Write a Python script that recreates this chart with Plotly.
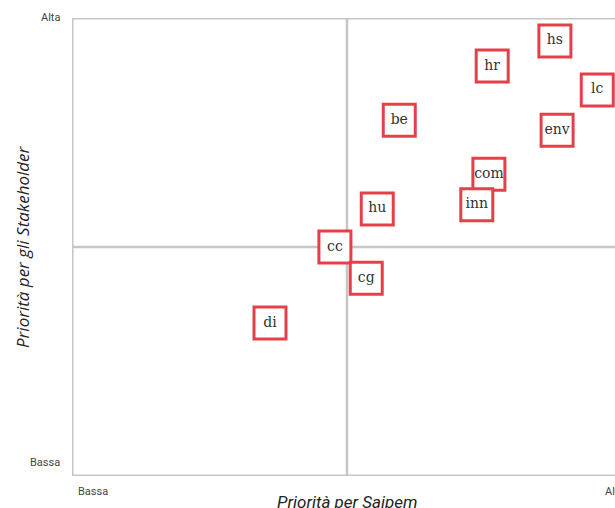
import plotly.graph_objects as go

labels = ["di", "cc", "cg", "hu", "be", "com", "inn", "hr", "env", "hs", "lc"]
x_vals = [3.60, 4.78, 5.35, 5.55, 5.95, 7.58, 7.36, 7.64, 8.82, 8.78, 9.55]
y_vals = [3.34, 5.00, 4.32, 5.83, 7.77, 6.59, 5.92, 8.95, 7.55, 9.50, 8.43]
axis_low = "Bassa"
axis_high = "Alta"
x_title = "Priorità per Saipem"
y_title = "Priorità per gli Stakeholder"

W, H = 615, 508
ML, MT, MB = 72, 18, 32
plot_w = W - ML
full_w = 550
xmax = 10 * plot_w / full_w

fig = go.Figure()
fig.add_trace(go.Scatter(
    x=x_vals, y=y_vals, mode="markers+text", text=labels,
    textposition="middle center",
    textfont=dict(family="DejaVu Serif", size=14, color="#333333"),
    marker=dict(symbol="square", size=32, color="white",
                line=dict(color="#e5404a", width=3)),
    cliponaxis=False, hoverinfo="skip",
))

grey = "#c6c6c6"
shapes = [
    dict(type="line", x0=0, x1=xmax + 1, y0=10, y1=10, line=dict(color=grey, width=3)),
    dict(type="line", x0=0, x1=xmax + 1, y0=0, y1=0, line=dict(color=grey, width=3)),
    dict(type="line", x0=0, x1=0, y0=0, y1=10, line=dict(color=grey, width=3)),
    dict(type="line", x0=5, x1=5, y0=0, y1=10, line=dict(color=grey, width=2.5)),
    dict(type="line", x0=0, x1=xmax + 1, y0=5, y1=5, line=dict(color=grey, width=2.5)),
]
for s in shapes:
    s["layer"] = "below"
    s["xref"] = "x"
    s["yref"] = "y"

tick_font = dict(family="Liberation Sans Narrow, Roboto, sans-serif", size=11, color="#444444")
title_font = dict(family="Open Sans, sans-serif", size=17, color="#222222")
annotations = [
    dict(text=axis_high, x=0, y=10, xref="x", yref="y", xanchor="right", yanchor="middle",
         xshift=-10, yshift=1, showarrow=False, font=tick_font),
    dict(text=axis_low, x=0, y=0, xref="x", yref="y", xanchor="right", yanchor="middle",
         xshift=-10, yshift=14, showarrow=False, font=tick_font),
    dict(text=axis_low, x=0, y=0, xref="paper", yref="y", xanchor="left", yanchor="top",
         xshift=4, yshift=-7, showarrow=False, font=tick_font),
    dict(text=axis_high, x=(603 - ML) / plot_w, y=0, xref="paper", yref="y", xanchor="left",
         yanchor="top", yshift=-7, showarrow=False, font=tick_font),
    dict(text="<i>" + x_title + "</i>", x=5, y=0, xref="x", yref="y", xanchor="center",
         yanchor="top", yshift=-14, showarrow=False,
         font=dict(family="Liberation Sans Narrow, Roboto, sans-serif", size=17, color="#222222")),
    dict(text="<i>" + y_title + "</i>", x=0, y=5, xref="paper", yref="y", xanchor="center",
         yanchor="middle", xshift=-50, textangle=-90, showarrow=False, font=title_font),
]

fig.update_layout(
    width=W, height=H,
    margin=dict(l=ML, r=0, t=MT, b=MB),
    paper_bgcolor="white", plot_bgcolor="white",
    showlegend=False,
    xaxis=dict(range=[0, xmax], visible=False, fixedrange=True),
    yaxis=dict(range=[0, 10], visible=False, fixedrange=True),
    shapes=shapes, annotations=annotations,
)

fig.write_html(
    "out.html",
    config={"displayModeBar": False},
    post_script="document.body.style.margin='0';document.body.style.overflow='hidden';",
)
